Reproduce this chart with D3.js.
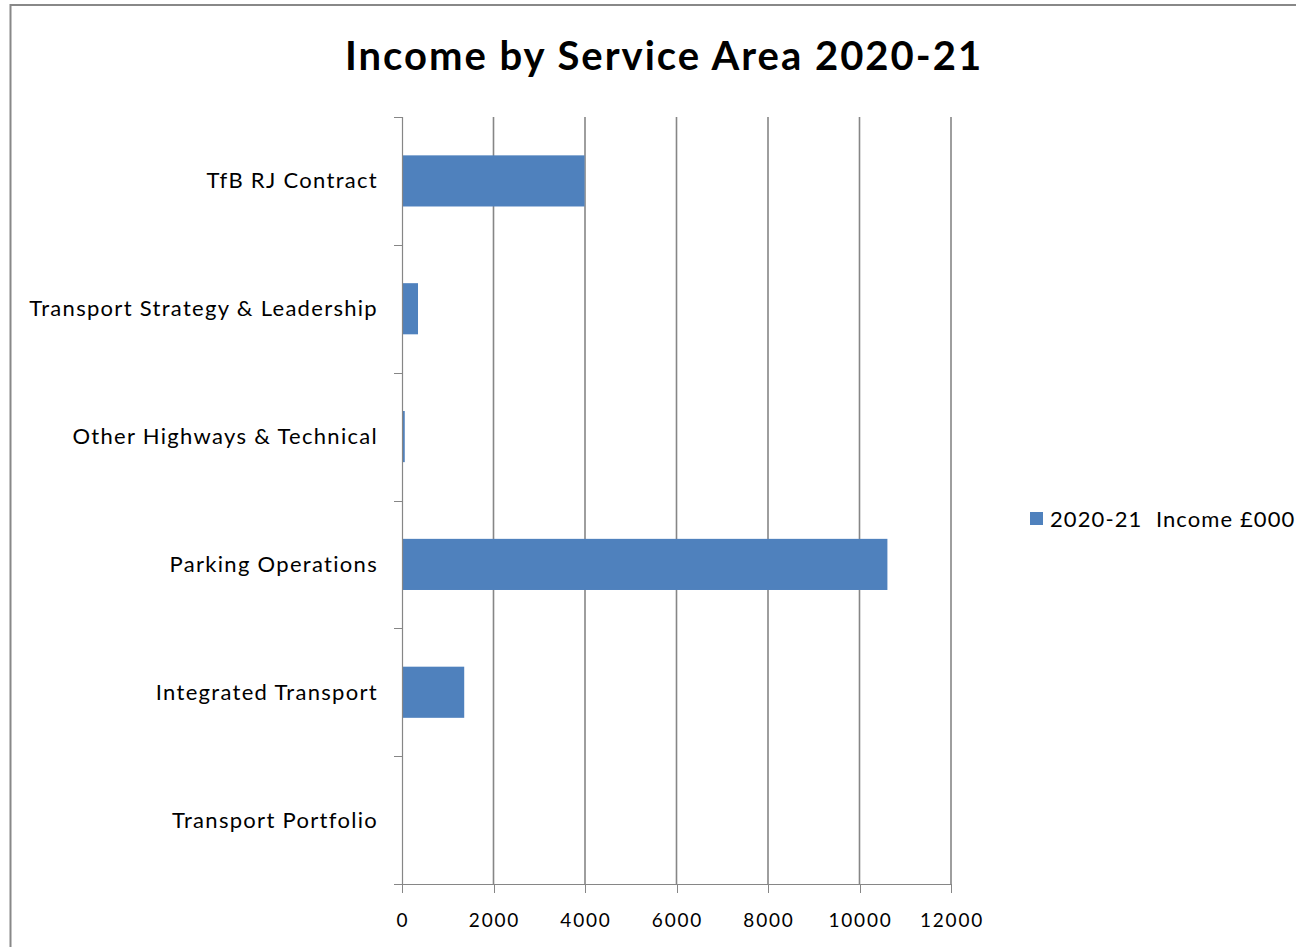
<!DOCTYPE html>
<html>
<head>
<meta charset="utf-8">
<script src="https://cdn.jsdelivr.net/npm/d3@7"></script>
<style>
  html, body { margin: 0; padding: 0; background: #fff; }
  svg { display: block; }
  text { font-family: Lato, "Open Sans", sans-serif; fill: #000; }
</style>
</head>
<body>
<svg id="chart" width="1296" height="947"></svg>
<script>
// Service areas, listed top to bottom as drawn
const categories = [
  "TfB RJ Contract",
  "Transport Strategy & Leadership",
  "Other Highways & Technical",
  "Parking Operations",
  "Integrated Transport",
  "Transport Portfolio"
];
// 2020-21 income, £000
const income = [3990, 350, 60, 10610, 1360, 0];
const xTicks = [0, 2000, 4000, 6000, 8000, 10000, 12000];
const seriesName = "2020-21  Income £000";
const titleText = "Income by Service Area 2020-21";

const svg = d3.select("#chart");
const W = 1296, H = 947;
const plot = { left: 402, right: 951, top: 117, bottom: 884 };
const barColor = "#4f81bd";
const gridColor = "#868686";

// chart frame (top and left edges)
svg.append("path")
  .attr("d", `M10.5,${H} V5 H${W}`)
  .attr("fill", "none")
  .attr("stroke", "#888")
  .attr("stroke-width", 2);

const x = d3.scaleLinear().domain([0, 12000]).range([plot.left, plot.right]);
const y = d3.scaleBand().domain(categories).range([plot.top, plot.bottom]).paddingInner(0.6).paddingOuter(0.3);
const yEdges = d3.scaleBand().domain(categories).range([plot.top, plot.bottom]).padding(0);

// vertical gridlines
svg.append("g").selectAll("line")
  .data(xTicks.filter(d => d > 0))
  .join("line")
  .attr("x1", d => x(d)).attr("x2", d => x(d))
  .attr("y1", plot.top).attr("y2", plot.bottom)
  .attr("stroke", gridColor).attr("stroke-width", 1.6);

// bars
svg.append("g").selectAll("rect")
  .data(categories.map((c, i) => ({ c, v: income[i] })))
  .join("rect")
  .attr("x", x(0))
  .attr("y", d => y(d.c))
  .attr("width", d => x(d.v) - x(0))
  .attr("height", y.bandwidth())
  .attr("fill", barColor);

// category axis
const yAxis = svg.append("g");
yAxis.append("line")
  .attr("x1", x(0) + 0.5).attr("x2", x(0) + 0.5)
  .attr("y1", plot.top).attr("y2", plot.bottom)
  .attr("stroke", gridColor).attr("stroke-width", 1.2);
const edges = categories.map(c => yEdges(c)).concat([plot.bottom]);
yAxis.selectAll("line.tick")
  .data(edges)
  .join("line").attr("class", "tick")
  .attr("x1", x(0) - 8).attr("x2", x(0))
  .attr("y1", d => Math.round(d) + 0.5).attr("y2", d => Math.round(d) + 0.5)
  .attr("stroke", gridColor).attr("stroke-width", 1);
yAxis.selectAll("text")
  .data(categories)
  .join("text")
  .attr("x", 378)
  .attr("y", d => yEdges(d) + yEdges.bandwidth() / 2 - 1)
  .attr("text-anchor", "end")
  .attr("dominant-baseline", "central")
  .attr("font-size", 22)
  .attr("letter-spacing", 1.3)
  .text(d => d);

// value axis
const xAxis = svg.append("g");
xAxis.append("line")
  .attr("x1", x(0)).attr("x2", x(12000))
  .attr("y1", plot.bottom + 0.5).attr("y2", plot.bottom + 0.5)
  .attr("stroke", gridColor).attr("stroke-width", 1.2);
xAxis.selectAll("line.tick")
  .data(xTicks)
  .join("line").attr("class", "tick")
  .attr("x1", d => Math.round(x(d)) + 0.5).attr("x2", d => Math.round(x(d)) + 0.5)
  .attr("y1", plot.bottom).attr("y2", plot.bottom + 9)
  .attr("stroke", gridColor).attr("stroke-width", 1);
xAxis.selectAll("text")
  .data(xTicks)
  .join("text")
  .attr("x", d => x(d) + 1)
  .attr("y", 919)
  .attr("text-anchor", "middle")
  .attr("dominant-baseline", "central")
  .attr("font-size", 19)
  .attr("letter-spacing", 1.8)
  .text(d => d);

// title
svg.append("text")
  .attr("x", 664).attr("y", 70)
  .attr("text-anchor", "middle")
  .attr("font-size", 40)
  .attr("font-weight", "bold")
  .attr("letter-spacing", 2)
  .text(titleText);

// legend
const lg = svg.append("g");
lg.append("rect")
  .attr("x", 1030).attr("y", 512).attr("width", 13).attr("height", 13)
  .attr("fill", barColor);
lg.append("text")
  .attr("x", 1050).attr("y", 518)
  .attr("dominant-baseline", "central")
  .attr("font-size", 22)
  .attr("letter-spacing", 1.1)
  .attr("xml:space", "preserve")
  .style("white-space", "pre")
  .text(seriesName);
</script>
</body>
</html>
